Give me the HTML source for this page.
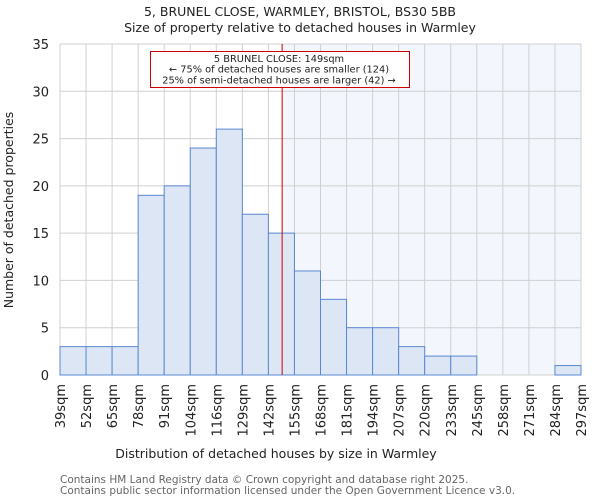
<!DOCTYPE html>
<html><head><meta charset="utf-8"><style>
body{margin:0;background:#fff;}
svg{display:block;font-family:"DejaVu Sans","Liberation Sans",sans-serif;}
</style></head><body>
<svg id="c" width="600" height="500" viewBox="0 0 600 500">
<text x="300" y="16" text-anchor="middle" font-size="12.5" fill="#222">5, BRUNEL CLOSE, WARMLEY, BRISTOL, BS30 5BB</text>
<text x="300" y="32" text-anchor="middle" font-size="12.5" fill="#222">Size of property relative to detached houses in Warmley</text>
<g id="plot"></g>
<text x="276" y="458" text-anchor="middle" font-size="12.5" fill="#222">Distribution of detached houses by size in Warmley</text>
<text transform="translate(13,210) rotate(-90)" text-anchor="middle" font-size="12.5" fill="#222">Number of detached properties</text>
<text x="60" y="483" font-size="10.5" fill="#666">Contains HM Land Registry data © Crown copyright and database right 2025.</text>
<text x="60" y="494" font-size="10.5" fill="#666">Contains public sector information licensed under the Open Government Licence v3.0.</text>
</svg>
<script>
const binLabels=["39sqm","52sqm","65sqm","78sqm","91sqm","104sqm","116sqm","129sqm","142sqm","155sqm","168sqm","181sqm","194sqm","207sqm","220sqm","233sqm","245sqm","258sqm","271sqm","284sqm","297sqm"];
const counts=[3,3,3,19,20,24,26,17,15,11,8,5,5,3,2,2,0,0,0,1];
const yTicks=[0,5,10,15,20,25,30,35];
const markerValue=149;
const binStart=39, binEnd=297;
const L=60,R=581,T=44,B=375,yMax=35;
const NS="http://www.w3.org/2000/svg";
const g=document.getElementById('plot');
const n=counts.length, bw=(R-L)/n;
const xIdx=i=>L+i*bw;
const xVal=v=>L+(v-binStart)/(binEnd-binStart)*(R-L);
const y=v=>B-v/yMax*(B-T);
function mk(t,a){const e=document.createElementNS(NS,t);for(const k in a)e.setAttribute(k,a[k]);g.appendChild(e);return e;}
const mx=xVal(markerValue);
let e=mk('rect',{x:mx,y:T,width:R-mx,height:B-T,fill:'#f3f6fc'});


for(let i=0;i<=n;i++){e=mk('line',{x1:xIdx(i),x2:xIdx(i),y1:T,y2:B,stroke:'#d0d0d0','stroke-width':1});

}
yTicks.forEach(t=>{e=mk('line',{x1:L,x2:R,y1:y(t),y2:y(t),stroke:'#d0d0d0','stroke-width':1});


const tx=mk('text',{x:49,y:y(t)+5,'text-anchor':'end','font-size':13,fill:'#222'});tx.textContent=t;

});
counts.forEach((c,i)=>{if(c<=0)return;
const r=mk('rect',{x:xIdx(i),y:y(c),width:bw,height:B-y(c),fill:'#dce6f4',stroke:'#5a88d4','stroke-width':1});

});
binLabels.forEach((l,i)=>{const tx=mk('text',{transform:`translate(${xIdx(i)+5},384) rotate(-90)`,'text-anchor':'end','font-size':13,fill:'#222'});tx.textContent=l;

});
e=mk('line',{x1:mx,x2:mx,y1:T,y2:B,stroke:'#cc0000','stroke-width':1});


e=mk('rect',{x:150.5,y:51.5,width:259,height:36,fill:'#fff',stroke:'#cc0000','stroke-width':1});


["5 BRUNEL CLOSE: 149sqm","← 75% of detached houses are smaller (124)","25% of semi-detached houses are larger (42) →"].forEach((s,i)=>{
const tx=mk('text',{x:279,y:62+i*10.7,'text-anchor':'middle','font-size':9.8,fill:'#222'});tx.textContent=s;

});
</script>
</body></html>
